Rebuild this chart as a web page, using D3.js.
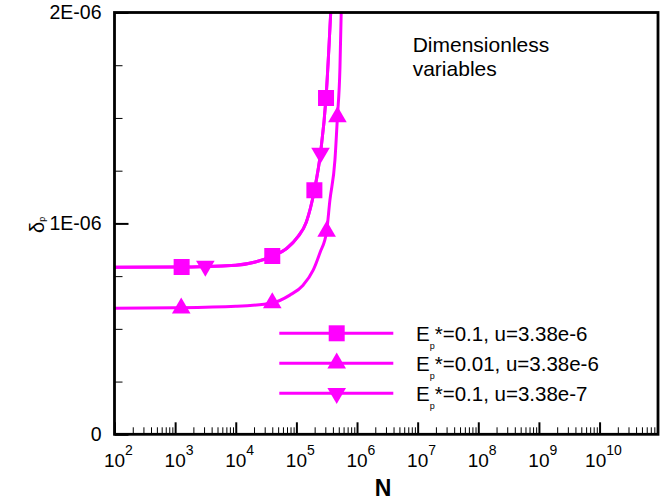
<!DOCTYPE html>
<html>
<head>
<meta charset="utf-8">
<script src="https://d3js.org/d3.v7.min.js"></script>
<style>
  body { margin: 0; background: #fff; }
  svg { display: block; font-family: "Liberation Sans", Arial, Helvetica, sans-serif; }
</style>
</head>
<body>
<div id="chart"></div>
<script>
// ---- data (delta_p in units of 1e-6) ----
var xTickExps = [2, 3, 4, 5, 6, 7, 8, 9, 10];
var yTickValues = [0, 1e-6, 2e-6];
var yTickLabels = ["0", "1E-06", "2E-06"];

// Ep*=0.1, u=3.38e-6  (squares)
var s1LineN = [1e2, 1e3, 1e4, 4e4, 6.9e4, 1.06e5, 1.46e5, 1.98e5, 2.5e5, 3.08e5, 3.68e5];
var s1LineD = [0.792, 0.793, 0.802, 0.845, 0.881, 0.937, 1.007, 1.157, 1.334, 1.595, 2.0];
var s1MarkN = [1.28e3, 4e4, 1.98e5, 3.08e5];
var s1MarkD = [0.793, 0.845, 1.157, 1.595];

// Ep*=0.01, u=3.38e-6  (up triangles)
var s2LineN = [1e2, 1e3, 1e4, 4e4, 7.8e4, 1.29e5, 1.89e5, 2.44e5, 3.15e5, 3.57e5, 4.32e5, 4.75e5, 5.23e5, 5.48e5];
var s2LineD = [0.598, 0.600, 0.607, 0.623, 0.66, 0.707, 0.778, 0.86, 0.962, 1.11, 1.30, 1.505, 1.74, 2.0];
var s2MarkN = [1.26e3, 4e4, 3.15e5, 4.75e5];
var s2MarkD = [0.598, 0.623, 0.962, 1.505];

// Ep*=0.1, u=3.38e-7  (down triangles) - curve lies on top of the first one
var s3LineN = s1LineN;
var s3LineD = s1LineD;
var s3MarkN = [3.15e3, 2.5e5];
var s3MarkD = [0.798, 1.334];

var legendLabels = ["*=0.1, u=3.38e-6", "*=0.01, u=3.38e-6", "*=0.1, u=3.38e-7"];

var series = [
  { lineN: s1LineN, lineD: s1LineD, markN: s1MarkN, markD: s1MarkD, shape: "square" },
  { lineN: s2LineN, lineD: s2LineD, markN: s2MarkN, markD: s2MarkD, shape: "up" },
  { lineN: s3LineN, lineD: s3LineD, markN: s3MarkN, markD: s3MarkD, shape: "down" }
];

var color = "#ff00ff";
var width = 669, height = 502;
var plotL = 114.5, plotR = 658, plotT = 12.5, plotB = 434.3;

var svg = d3.select("#chart").append("svg")
  .attr("width", width)
  .attr("height", height);

var x = d3.scaleLog().domain([100, 9.2e10]).range([plotL, plotR]);
var y = d3.scaleLinear().domain([0, 2e-6]).range([plotB, plotT]);

// clip for curves
svg.append("clipPath").attr("id", "clip")
  .append("rect")
  .attr("x", plotL).attr("y", plotT)
  .attr("width", plotR - plotL).attr("height", plotB - plotT);

// ---- axes ----
var minorX = [];
for (var e = 2; e <= 10; e++) {
  for (var m = 2; m <= 9; m++) {
    var v = m * Math.pow(10, e);
    if (v < x.domain()[1]) minorX.push(v);
  }
}
var majorX = xTickExps.map(function(e) { return Math.pow(10, e); });

svg.append("g")
  .attr("transform", "translate(0," + plotB + ")")
  .call(d3.axisBottom(x).tickValues(minorX).tickSize(-7).tickFormat(""))
  .call(function(g) { g.select(".domain").remove(); })
  .selectAll("line").attr("stroke", "#000").attr("stroke-width", 1);

svg.append("g")
  .attr("transform", "translate(0," + plotB + ")")
  .call(d3.axisBottom(x).tickValues(majorX).tickSize(-12).tickFormat(""))
  .call(function(g) { g.select(".domain").remove(); })
  .selectAll("line").attr("stroke", "#000").attr("stroke-width", 2);

var minorY = d3.range(1, 8).filter(function(i) { return i % 4 !== 0; })
  .map(function(i) { return i * 0.25e-6; });

svg.append("g")
  .attr("transform", "translate(" + plotL + ",0)")
  .call(d3.axisLeft(y).tickValues(minorY).tickSize(-8).tickFormat(""))
  .call(function(g) { g.select(".domain").remove(); })
  .selectAll("line").attr("stroke", "#000").attr("stroke-width", 1);

var yAxisG = svg.append("g")
  .attr("transform", "translate(" + plotL + ",0)")
  .call(d3.axisLeft(y).tickValues(yTickValues).tickSize(-14).tickPadding(13)
    .tickFormat(function(d, i) { return yTickLabels[i]; }));
yAxisG.select(".domain").remove();
yAxisG.selectAll("line").attr("stroke", "#000").attr("stroke-width", 2);
yAxisG.selectAll("text")
  .attr("font-size", "19.5px")
  .attr("font-family", "Liberation Sans, Arial, sans-serif")
  .attr("fill", "#000");

// x tick labels 10^n
xTickExps.forEach(function(e) {
  var t = x(Math.pow(10, e));
  var txt = svg.append("text")
    .attr("y", 467)
    .attr("fill", "#000");
  var base = txt.append("tspan").attr("font-size", "19px").text("10");
  var sup = txt.append("tspan").attr("font-size", "14px").attr("dy", -12).text(String(e));
  var wBase = base.node().getComputedTextLength();
  var wSup = sup.node().getComputedTextLength();
  var len = String(e).length;
  txt.attr("x", t - wBase / 2 - (wSup - wSup / len) / 2);
});

// axis titles
svg.append("text")
  .attr("x", 383)
  .attr("y", 496)
  .attr("text-anchor", "middle")
  .attr("font-size", "23px")
  .attr("font-weight", "bold")
  .text("N");

var yTitle = svg.append("text")
  .attr("transform", "translate(44,233) rotate(-90)")
  .attr("font-size", "20px");
yTitle.append("tspan").text("\u03b4");
yTitle.append("tspan").attr("font-size", "9px").attr("dy", 1).text("p");

// ---- markers ----
function markerPath(shape) {
  if (shape === "square") return "M-8,-8H8V8H-8Z";
  if (shape === "up") return "M0,-10.7L9.3,5.3L-9.3,5.3Z";
  return "M0,10.7L9.3,-5.3L-9.3,-5.3Z";
}

var line = d3.line()
  .x(function(d) { return x(d[0]); })
  .y(function(d) { return y(d[1] * 1e-6); })
  .curve(d3.curveMonotoneX);

var plot = svg.append("g").attr("clip-path", "url(#clip)");

series.forEach(function(s) {
  var pts = s.lineN.map(function(n, i) { return [n, s.lineD[i]]; });
  plot.append("path")
    .datum(pts)
    .attr("d", line)
    .attr("fill", "none")
    .attr("stroke", color)
    .attr("stroke-width", 3);
});

series.forEach(function(s) {
  var pts = s.markN.map(function(n, i) { return [n, s.markD[i]]; });
  plot.selectAll(null)
    .data(pts)
    .enter()
    .append("path")
    .attr("transform", function(d) {
      return "translate(" + x(d[0]) + "," + y(d[1] * 1e-6) + ")";
    })
    .attr("d", markerPath(s.shape))
    .attr("fill", color);
});

// frame
svg.append("rect")
  .attr("x", plotL).attr("y", plotT)
  .attr("width", plotR - plotL).attr("height", plotB - plotT)
  .attr("fill", "none")
  .attr("stroke", "#000")
  .attr("stroke-width", 2.8);

// annotation
svg.append("text")
  .attr("x", 412.7).attr("y", 52)
  .attr("font-size", "21px")
  .text("Dimensionless");
svg.append("text")
  .attr("x", 412.7).attr("y", 76)
  .attr("font-size", "21px")
  .text("variables");

// ---- legend ----
var legendY = [333.3, 363.3, 393.3];
series.forEach(function(s, i) {
  var g = svg.append("g").attr("transform", "translate(0," + legendY[i] + ")");
  g.append("line")
    .attr("x1", 279.3).attr("x2", 393.3)
    .attr("y1", 0).attr("y2", 0)
    .attr("stroke", color)
    .attr("stroke-width", 3);
  g.append("path")
    .attr("transform", "translate(336.7,0)")
    .attr("d", markerPath(s.shape))
    .attr("fill", color);
  var t = g.append("text")
    .attr("x", 416)
    .attr("y", 7.4)
    .attr("font-size", "20.5px")
    .attr("fill", "#000");
  t.append("tspan").text("E");
  t.append("tspan").attr("font-size", "9px").attr("dy", 8).text("p");
  t.append("tspan").attr("dy", -8).text(legendLabels[i]);
});
</script>
</body>
</html>
